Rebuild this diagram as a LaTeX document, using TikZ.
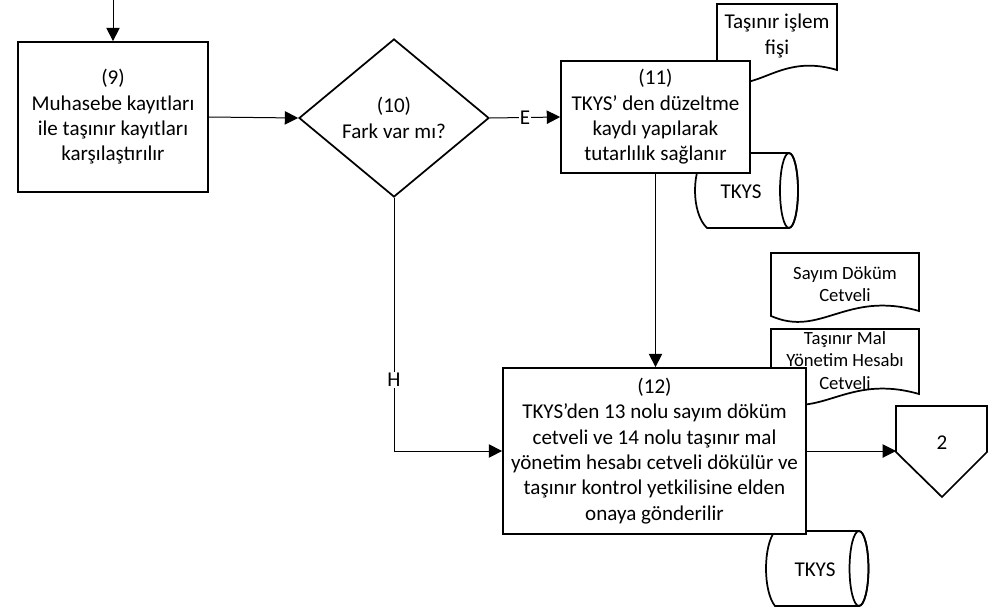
\documentclass[tikz,border=0pt]{standalone}
\usepackage{fontspec}
\setmainfont{Carlito}
\usetikzlibrary{arrows.meta,positioning,shapes.geometric}
\newcommand{\tkmain}{\fontsize{15.8}{19}\selectfont}
\newcommand{\tksmall}{\fontsize{14}{16.8}\selectfont}
\tikzset{
  tkbox/.style={draw, fill=white, line width=1.3pt, align=center, inner sep=0pt},
  tkdecision/.style={diamond, draw, fill=white, line width=1.3pt, align=center, inner sep=0pt, aspect=1.2, minimum width=142.5pt, minimum height=118.5pt},
  tkshape/.style={draw, fill=white, line width=1.3pt},
  tkline/.style={->, line width=0.75pt},
  tklabel/.style={fill=white, inner sep=1pt},
  tkdoctext/.style={align=center, font=\tksmall},
}

\begin{document}
\begin{tikzpicture}[>={Triangle[length=10pt,width=10pt]}, x=0.75pt, y=-0.75pt, every node/.style={font=\tkmain}]
  \useasboundingbox (0,0) rectangle (989,607);

  % documents and data stores
  \draw[tkshape] (717,4) -- (837,4) -- (837,70) .. controls (777,52) and (757,97) .. (717,79) -- cycle;
  \node[align=center] (fis) at (777,36) {Taşınır işlem\\fişi};

  \draw[tkshape] (707,153) -- (789,153) arc[start angle=90, end angle=-90, x radius=6.75pt, y radius=28.1pt] -- (707,228) .. controls (691,213) and (691,168) .. (707,153) -- cycle;
  \draw[line width=1.3pt] (789,190.5) ellipse [x radius=6.75pt, y radius=28.1pt];
  \node (tkys1) at (741,192) {TKYS};

  \draw[tkshape] (771,253) -- (919,253) -- (919,311) .. controls (846,290) and (821,338) .. (771,316) -- cycle;
  \node[tkdoctext] (sayim) at (845,284) {Sayım Döküm\\Cetveli};

  \draw[tkshape] (771,329) -- (919,329) -- (919,394) .. controls (846,373) and (821,421) .. (771,399) -- cycle;
  \node[tkdoctext] (yonetim) at (845,360.5) {Taşınır Mal\\Yönetim Hesabı\\Cetveli};

  \draw[tkshape] (775,531) -- (859,531) arc[start angle=90, end angle=-90, x radius=7.1pt, y radius=28.1pt] -- (775,606) .. controls (763,591) and (763,546) .. (775,531) -- cycle;
  \draw[line width=1.3pt] (859,568.5) ellipse [x radius=7.1pt, y radius=28.1pt];
  \node (tkys2) at (815,570) {TKYS};

  % off-page connector
  \draw[tkshape] (896,406) -- (987,406) -- (987,452) -- (942,497) -- (896,452) -- cycle;
  \node (sayfa2) at (942,443) {2};
  \coordinate (sayfa2in) at (896,451);

  % steps
  \coordinate (giris) at (113,0);
  \node[tkbox, minimum width=142.5pt, minimum height=112.5pt] (b9) at (113,117) {(9)\\Muhasebe kayıtları\\ile taşınır kayıtları\\karşılaştırılır};
  \node[tkdecision] (b10) at (394,118) {(10)\\Fark var mı?};
  \node[tkbox, minimum width=141.75pt, minimum height=84pt] (b11) at (655.5,117) {(11)\\TKYS’ den düzeltme\\kaydı yapılarak\\tutarlılık sağlanır};
  \node[tkbox, minimum width=227.25pt, minimum height=124.5pt] (b12) at (654.5,451) {(12)\\TKYS’den 13 nolu sayım döküm\\cetveli ve 14 nolu taşınır mal\\yönetim hesabı cetveli dökülür ve\\taşınır kontrol yetkilisine elden\\onaya gönderilir};

  \draw[tkline] (giris) -- (b9);
  \draw[tkline] (b9.east) -- (b10.west);
  \draw[tkline] (b10.east) -- node[tklabel] (lblE) {E} (b11.west);
  \draw[tkline] (b10.south) |- node[tklabel, pos=0.36] (lblH) {H} (b12.west);
  \draw[tkline] (b11.south) -- (b11.south |- b12.north);
  \draw[tkline] (b12.east) -- (sayfa2in);
\end{tikzpicture}
\end{document}
